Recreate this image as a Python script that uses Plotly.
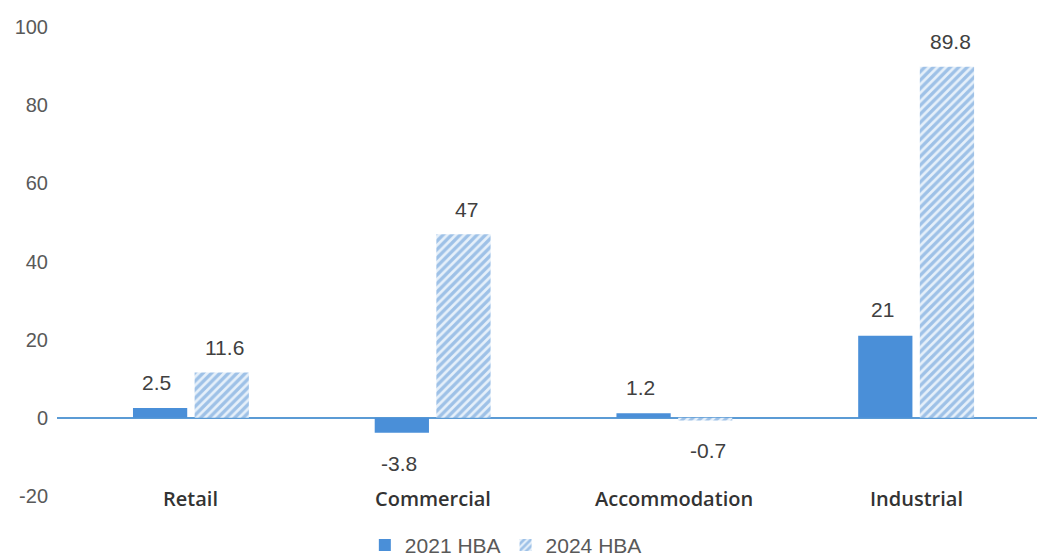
import plotly.graph_objects as go

categories = ["Retail", "Commercial", "Accommodation", "Industrial"]
hba_2021 = [2.5, -3.8, 1.2, 21]
hba_2024 = [11.6, 47, -0.7, 89.8]
labels_2021 = ["2.5", "-3.8", "1.2", "21"]
labels_2024 = ["11.6", "47", "-0.7", "89.8"]
y_ticks = [-20, 0, 20, 40, 60, 80, 100]

SOLID = "#4a8fd8"
STRIPE = "#5592d4"
SANS = "Liberation Sans, Arial, sans-serif"
CAT = "Open Sans, sans-serif"

fig = go.Figure()
fig.add_trace(go.Bar(
    x=categories, y=hba_2021, name="2021 HBA",
    marker=dict(color=SOLID, line=dict(width=0)),
))
fig.add_trace(go.Bar(
    x=categories, y=hba_2024, name="2024 HBA",
    marker=dict(color="#e6f0fa", line=dict(width=0),
                pattern=dict(shape="/", fgcolor=STRIPE, bgcolor="#e6f0fa",
                             size=6, solidity=0.55)),
))

annotations = []
for cat, v, t in zip(categories, hba_2021, labels_2021):
    annotations.append(dict(x=cat, y=v, text=t, showarrow=False, xshift=-34,
                            yshift=26 if v >= 0 else -31,
                            font=dict(size=21, color="#404040", family=SANS)))
for cat, v, t in zip(categories, hba_2024, labels_2024):
    annotations.append(dict(x=cat, y=v, text=t, showarrow=False, xshift=34,
                            yshift=25 if v >= 0 else -30,
                            font=dict(size=21, color="#404040", family=SANS)))
for cat in categories:
    annotations.append(dict(x=cat, y=-20, text=cat, showarrow=False, yshift=-2,
                            font=dict(size=20, color="#333333", family=CAT, weight=600)))

fig.update_layout(
    width=1039, height=556,
    margin=dict(l=57, r=2, t=27, b=60, autoexpand=False),
    plot_bgcolor="white", paper_bgcolor="white",
    barmode="group", bargap=0.49, bargroupgap=0.12,
    font=dict(family=SANS, color="#595959"),
    showlegend=True,
    legend=dict(orientation="h", x=0.458, xanchor="center", y=-0.105, yanchor="middle",
                font=dict(size=21, color="#595959", family=SANS), itemwidth=30,
                tracegroupgap=0),
    xaxis=dict(range=[-0.554, 3.5], showticklabels=False, showgrid=False,
               zeroline=False, showline=False, ticks=""),
    yaxis=dict(range=[-20, 100], tickvals=y_ticks, ticktext=[str(v) for v in y_ticks],
               showgrid=False, zeroline=True, zerolinecolor="#5b9bd5", zerolinewidth=2,
               showline=False, ticks="", tickfont=dict(size=20, color="#595959", family=SANS),
               ticklabelstandoff=8),
    annotations=annotations,
)

fig.write_html("out.html")
